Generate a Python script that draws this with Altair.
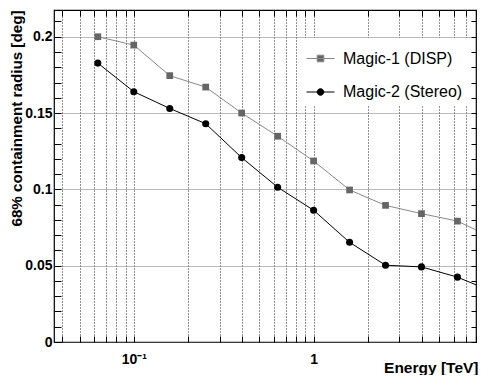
import altair as alt
import pandas as pd

# ---- data ----
energy = [0.0631, 0.1, 0.1585, 0.2512, 0.3981, 0.631, 1.0, 1.585, 2.512, 3.981, 6.31, 10.0]
magic1 = [0.200, 0.1945, 0.1745, 0.167, 0.150, 0.1348, 0.1186, 0.0996, 0.0895, 0.0841, 0.0792, 0.068]
magic2 = [0.1827, 0.164, 0.153, 0.143, 0.1208, 0.1014, 0.0863, 0.0653, 0.0503, 0.0492, 0.0425, 0.0327]
series = ["Magic-1 (DISP)", "Magic-2 (Stereo)"]

x_ticks = [0.04, 0.05, 0.06, 0.07, 0.08, 0.09,
           0.1, 0.2, 0.3, 0.4, 0.5, 0.6, 0.7, 0.8, 0.9,
           1, 2, 3, 4, 5, 6, 7, 8]
y_ticks = [round(i * 0.01, 2) for i in range(22)]

rows = []
for e, v in zip(energy, magic1):
    rows.append({"series": series[0], "energy": e, "radius": v})
for e, v in zip(energy, magic2):
    rows.append({"series": series[1], "energy": e, "radius": v})
df = pd.DataFrame(rows)

FONT = "Liberation Sans"
XDOM = [0.036, 8.0]
YDOM = [0, 0.2175]
major_test = "abs(datum.value*20 - round(datum.value*20)) < 0.001"

x_axis = alt.Axis(
    values=x_ticks,
    labelExpr="abs(datum.value-0.1)<1e-6 ? '10⁻¹' : (abs(datum.value-1)<1e-6 ? '1' : '')",
    grid=True, gridColor="#222", gridDash=[1, 2], gridWidth=1,
    domain=False, offset=-6, tickSize=6, tickColor="black", tickWidth=1,
    labelFont=FONT, labelFontSize=14, labelFontWeight="bold", labelColor="black",
    labelBaseline="alphabetic", labelPadding=21.5, labelFlush=False, labelOverlap=False,
    title="Energy [TeV]", titleFont=FONT, titleFontSize=15.5, titleFontWeight="bold",
    titleColor="black", titleAnchor="end", titleAlign="right",
    titleBaseline="alphabetic", titleX=424, titleY=36,
)
y_axis = alt.Axis(
    values=y_ticks,
    labelExpr=f"{major_test} ? (datum.value == 0 ? '0' : format(datum.value, '.2~f')) : ''",
    grid=True, gridColor="#777", gridDash=[1, 1], gridWidth=1,
    gridOpacity={"condition": {"test": major_test, "value": 1}, "value": 0},
    domain=False, offset=-7, tickSize=7, tickColor="black", tickWidth=1,
    labelFont=FONT, labelFontSize=14, labelFontWeight="bold", labelColor="black",
    labelBaseline="middle", labelPadding=2, labelOverlap=False, labelFlush=False,
    title="68% containment radius [deg]", titleFont=FONT, titleFontSize=15.2,
    titleFontWeight="bold", titleColor="black", titleAngle=270,
    titleAlign="right", titleBaseline="alphabetic", titleX=-39.5, titleY=0,
)

X = alt.X("energy:Q", scale=alt.Scale(type="log", domain=XDOM), axis=x_axis)
Y = alt.Y("radius:Q", scale=alt.Scale(domain=YDOM), axis=y_axis)

line1 = alt.Chart(df).transform_filter(alt.datum.series == series[0]).mark_line(
    clip=True, strokeWidth=1, color="#888888").encode(x=X, y=Y)
line2 = alt.Chart(df).transform_filter(alt.datum.series == series[1]).mark_line(
    clip=True, strokeWidth=1, color="#000000").encode(x=X, y=Y)
pts1 = alt.Chart(df).transform_filter(alt.datum.series == series[0]).mark_point(
    filled=True, shape="square", size=45, color="#666666", opacity=1, clip=True
).encode(x=X, y=Y)
pts2 = alt.Chart(df).transform_filter(alt.datum.series == series[1]).mark_point(
    filled=True, shape="circle", size=50, color="#000000", opacity=1, clip=True
).encode(x=X, y=Y)

inner = alt.layer(line1, line2, pts1, pts2)

# legend + top/right tick axes (no data drawn)
sq = "M-1,0H1M-0.236,-0.236H0.236V0.236H-0.236Z"
ci = "M-1,0H1M0.236,0A0.236,0.236 0 1,1 -0.236,0A0.236,0.236 0 1,1 0.236,0Z"
leg = alt.Legend(title=None)
legend_layer = alt.Chart(df).transform_filter("false").mark_point(
    filled=True, opacity=1, strokeWidth=1
).encode(
    x=alt.X("energy:Q", scale=alt.Scale(type="log", domain=XDOM),
            axis=alt.Axis(orient="top", values=x_ticks, labels=False, grid=False,
                          domain=False, offset=-6, tickSize=6, tickColor="black", title=None)),
    y=alt.Y("radius:Q", scale=alt.Scale(domain=YDOM),
            axis=alt.Axis(orient="right", values=y_ticks, labels=False, grid=False,
                          domain=False, offset=-5, tickSize=5, tickColor="black", title=None)),
    fill=alt.Fill("series:N", scale=alt.Scale(domain=series, range=["#666666", "#000000"]), legend=leg),
    stroke=alt.Stroke("series:N", scale=alt.Scale(domain=series, range=["#888888", "#000000"]), legend=leg),
    shape=alt.Shape("series:N", scale=alt.Scale(domain=series, range=[sq, ci]), legend=leg),
)

chart = alt.layer(inner, legend_layer).resolve_scale(
    x="independent", y="independent"
).properties(
    width=422, height=332,
    padding={"left": 46, "top": 2, "right": 2, "bottom": 33},
    autosize=alt.AutoSizeParams(type="none"),
).configure_view(
    stroke="black", strokeWidth=1.2
).configure_legend(
    orient="none", legendX=246, legendY=28, fillColor="white", padding=6,
    symbolSize=784, symbolStrokeWidth=1, labelFont=FONT, labelFontSize=16,
    labelColor="black", labelOffset=8, rowPadding=10.5, labelLimit=300,
)

chart.save("out.html", embed_options={"renderer": "svg", "actions": False})
